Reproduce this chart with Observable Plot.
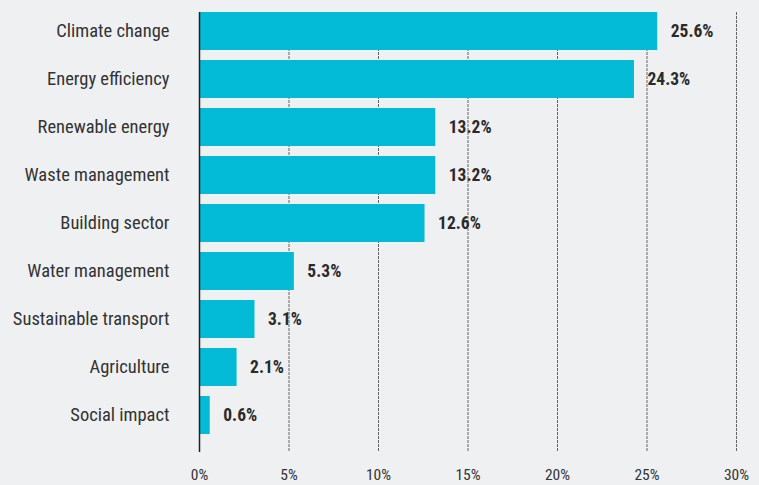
<!DOCTYPE html>
<html>
<head>
<meta charset="utf-8">
<script src="https://cdn.jsdelivr.net/npm/d3@7"></script>
<script src="https://cdn.jsdelivr.net/npm/@observablehq/plot@0.6"></script>
<style>
  html, body { margin: 0; padding: 0; background: #eff0f2; }
  #chart svg { display: block; }
</style>
</head>
<body>
<div id="chart"></div>
<script>
const categories = ["Climate change", "Energy efficiency", "Renewable energy", "Waste management", "Building sector", "Water management", "Sustainable transport", "Agriculture", "Social impact"];
const shares = [25.6, 24.3, 13.2, 13.2, 12.6, 5.3, 3.1, 2.1, 0.6];
const xTicks = [0, 5, 10, 15, 20, 25, 30];
const gridTicks = [5, 10, 15, 20, 25, 30];

const data = categories.map((c, i) => ({category: c, value: shares[i]}));
const font = "'Liberation Sans Narrow', 'Roboto Condensed', 'DejaVu Sans Condensed', 'Liberation Sans', sans-serif";

const chart = Plot.plot({
  width: 759,
  height: 485,
  marginLeft: 199,
  marginRight: 23,
  marginTop: 12,
  marginBottom: 33,
  style: {background: "#eff0f2", fontFamily: font, color: "#333"},
  x: {domain: [0, 30], ticks: xTicks, tickFormat: d => d + "%", label: null},
  y: {domain: categories, range: [2, 444], padding: 0.208, label: null},
  marks: [
    Plot.ruleX(gridTicks, {stroke: "#666", strokeWidth: 1, strokeDasharray: "3,1"}),
    Plot.barX(data, {x: "value", y: "category", fill: "#04bbd7"}),
    Plot.ruleX([0], {stroke: "#222", strokeWidth: 1.5}),
    Plot.text(data, {x: "value", y: "category", text: d => d.value.toFixed(1) + "%", textAnchor: "start", dx: 13, fontWeight: "bold", fontSize: 17.5, fill: "#2a2a2a"}),
    Plot.axisX({ticks: xTicks, tickFormat: d => d + "%", tickSize: 0, tickPadding: 16, fontSize: 15.5, fill: "#333", label: null}),
    Plot.axisY({tickSize: 0, tickPadding: 30, fontSize: 18.5, fill: "#333", label: null})
  ]
});
document.getElementById("chart").appendChild(chart);
</script>
</body>
</html>
